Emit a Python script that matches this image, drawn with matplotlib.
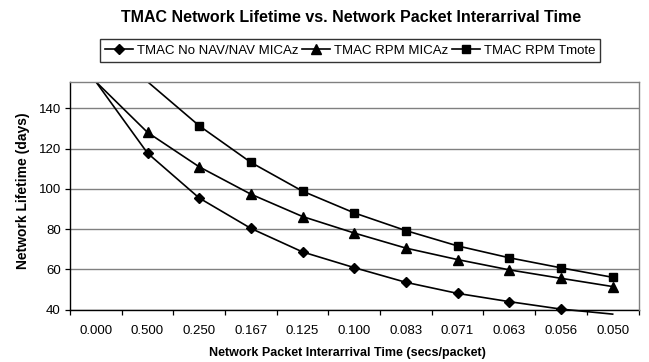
import numpy as np
import matplotlib
matplotlib.use("Agg")
import matplotlib.pyplot as plt
from matplotlib.lines import Line2D
from matplotlib.patches import Rectangle

plt.rcParams['font.family'] = ['Liberation Sans', 'DejaVu Sans']

categories = ['0.000', '0.500', '0.250', '0.167', '0.125', '0.100',
              '0.083', '0.071', '0.063', '0.056', '0.050']
# values above the axis maximum are pinned to the top edge (as in the original chart)
no_nav_micaz = [170.0, 117.7, 95.4, 80.3, 68.6, 60.8, 53.5, 48.0, 43.9, 40.2, 37.7]
rpm_micaz = [175.0, 128.0, 110.9, 97.3, 86.2, 78.0, 70.5, 64.8, 59.7, 55.5, 51.4]
rpm_tmote = [185.0, 155.0, 131.3, 113.1, 98.8, 88.0, 79.2, 71.6, 65.7, 60.7, 56.0]
series_names = ['TMAC No NAV/NAV MICAz', 'TMAC RPM MICAz', 'TMAC RPM Tmote']
yticks = [40, 60, 80, 100, 120, 140]

YMIN, YMAX = 40, 153.2
W, H = 649, 362

fig = plt.figure(figsize=(W / 100, H / 100), dpi=100)
fig.patch.set_facecolor('white')
left, right, top, bottom = 70, 638.5, 81.7, 309.5
ax = fig.add_axes([left / W, 1 - bottom / H, (right - left) / W, (bottom - top) / H])

x = np.arange(len(categories))
markers = ['D', '^', 's']
msizes = [5.5, 6.5, 6]
for vals, mk, ms, name in zip([no_nav_micaz, rpm_micaz, rpm_tmote], markers, msizes, series_names):
    v = np.asarray(vals, dtype=float)
    shown = np.minimum(v, YMAX)
    inrange = (v <= YMAX) & (v >= YMIN)
    ln, = ax.plot(x, shown, color='black', lw=1.2, zorder=3)
    clip = Rectangle((0, -0.1), 1, 1.1 - 0.004, transform=ax.transAxes,
                     facecolor='none', edgecolor='none')
    ln.set_clip_path(clip)
    ax.plot(x[inrange], v[inrange], linestyle='none', marker=mk, ms=ms,
            color='black', zorder=4, clip_on=False)

ax.set_xlim(-0.5, len(categories) - 0.5)
ax.set_ylim(YMIN, YMAX)
ax.set_xticks(x)
ax.set_xticklabels(categories)
ax.set_xticks(np.arange(-0.5, len(categories)), minor=True)
ax.tick_params(axis='x', which='major', length=0, pad=11, labelsize=9.5)
ax.tick_params(axis='x', which='minor', length=3.5, width=0.9, direction='out')
ax.set_yticks(yticks)
ax.tick_params(axis='y', which='major', length=3.6, width=0.9, pad=3, labelsize=9.5)

ax.yaxis.grid(True, color='#808080', lw=1.0)
ax.set_axisbelow(True)
for s in ['left', 'bottom']:
    ax.spines[s].set_color('black')
    ax.spines[s].set_linewidth(1.0)
for s in ['top', 'right']:
    ax.spines[s].set_color('#808080')
    ax.spines[s].set_linewidth(1.0)
    ax.spines[s].set_zorder(5)

fig.text(351 / W, 1 - 17.7 / H, 'TMAC Network Lifetime vs. Network Packet Interarrival Time',
         ha='center', va='center', fontsize=11.5, fontweight='bold')
fig.text(347 / W, 1 - 353.3 / H, 'Network Packet Interarrival Time (secs/packet)',
         ha='center', va='center', fontsize=9, fontweight='bold')
fig.text(23.5 / W, 1 - 191 / H, 'Network Lifetime (days)', rotation=90,
         ha='center', va='center', fontsize=10, fontweight='bold')

handles = [Line2D([], [], color='black', lw=1.2, marker=m, ms=ms)
           for m, ms in zip(markers, msizes)]
leg = fig.legend(handles, series_names, loc='center',
                 bbox_to_anchor=(350 / W, 1 - 50.5 / H), ncol=3, fontsize=9.5,
                 frameon=True, fancybox=False, edgecolor='black',
                 handlelength=2.1, handletextpad=0.3, columnspacing=0.3,
                 borderpad=0.4, borderaxespad=0)
leg.get_frame().set_linewidth(1.0)

fig.savefig('out.png', dpi=100, facecolor='white')
